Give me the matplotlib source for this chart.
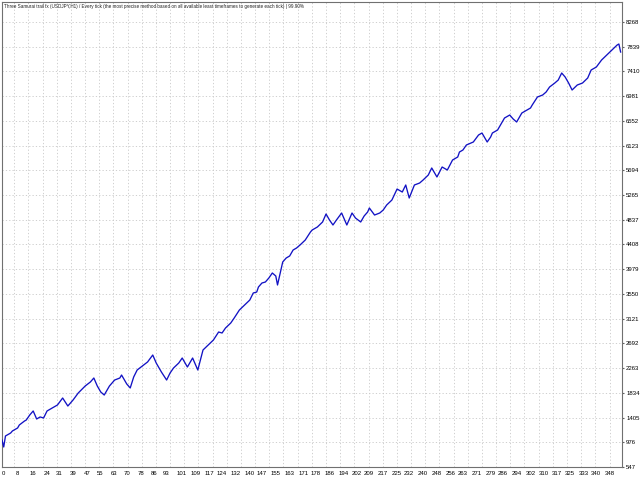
import matplotlib
matplotlib.use("Agg")
import matplotlib.pyplot as plt
import numpy as np

# --- tester report data ---
title = ("Three Samurai trail fx (USDJPY,H1) / Every tick (the most precise method "
         "based on all available least timeframes to generate each tick) | 99.90%")

trades = [0, 1, 2, 5, 6, 9, 10, 13, 14, 16, 18, 20, 22, 24, 26, 29, 32, 35, 38, 41,
          44, 48, 51, 53, 55, 57, 59, 62, 65, 68, 69, 72, 74, 76, 78, 81, 84, 87, 89, 92,
          95, 97, 99, 102, 104, 107, 110, 113, 116, 119, 122, 125, 127, 129, 132, 134, 137, 140, 143, 145,
          147, 148, 150, 152, 154, 156, 158, 159, 162, 164, 166, 168, 170, 172, 175, 178, 179, 182, 185, 187,
          189, 191, 193, 196, 199, 202, 204, 207, 209, 211, 212, 215, 218, 220, 222, 225, 228, 231, 233, 235,
          238, 241, 243, 246, 248, 251, 254, 257, 260, 263, 264, 266, 268, 272, 275, 277, 280, 282, 283, 286,
          287, 290, 293, 295, 297, 300, 303, 305, 306, 309, 312, 314, 316, 319, 321, 323, 325, 327, 329, 332,
          335, 338, 340, 343, 346, 349, 352, 355, 356, 357]

balance = [1015, 894, 1085, 1137, 1172, 1224, 1276, 1345, 1362, 1449, 1519, 1380, 1415, 1397, 1519, 1571, 1623, 1744, 1605, 1709,
           1831, 1952, 2022, 2091, 1952, 1848, 1796, 1952, 2056, 2091, 2143, 1987, 1918, 2109, 2230, 2299, 2369, 2490, 2351, 2195,
           2056, 2178, 2265, 2351, 2438, 2282, 2438, 2230, 2577, 2664, 2750, 2889, 2872, 2959, 3045, 3132, 3271, 3358, 3444, 3566,
           3583, 3670, 3739, 3757, 3826, 3913, 3861, 3705, 4104, 4173, 4208, 4312, 4347, 4399, 4485, 4624, 4659, 4711, 4798, 4937,
           4832, 4746, 4832, 4954, 4746, 4954, 4867, 4798, 4902, 4971, 5041, 4919, 4954, 5006, 5093, 5179, 5370, 5318, 5440, 5214,
           5440, 5474, 5526, 5613, 5735, 5579, 5752, 5700, 5873, 5926, 6012, 6047, 6134, 6186, 6307, 6342, 6186, 6273, 6342, 6394,
           6446, 6602, 6654, 6585, 6533, 6689, 6741, 6776, 6828, 6967, 7001, 7053, 7140, 7209, 7261, 7383, 7313, 7209, 7088, 7175,
           7209, 7296, 7435, 7487, 7608, 7695, 7782, 7869, 7886, 7747]

y_ticks = [547, 976, 1405, 1834, 2263, 2692, 3121, 3550, 3979, 4408, 4837, 5265,
           5694, 6123, 6552, 6981, 7410, 7839, 8268]
x_ticks = [0, 8, 16, 24, 31, 39, 47, 55, 63, 70, 78, 86, 93, 101, 109, 117, 124, 132,
           140, 147, 155, 163, 171, 178, 186, 194, 202, 209, 217, 225, 232, 240, 248, 256,
           263, 271, 279, 286, 294, 302, 310, 317, 325, 333, 340, 348]

font = ["Liberation Sans", "DejaVu Sans"]

fig = plt.figure(figsize=(6.4, 4.8), dpi=100)
ax = fig.add_axes([2 / 640, 13 / 480, 620 / 640, 465 / 480])

ax.plot(trades, balance, color="#1212c4", lw=0.95, zorder=3)

ax.set_xlim(0, 357.8)
ax.set_ylim(547, 8615)

# price scale on the right like the MT4 tester
ax.yaxis.tick_right()
ax.set_yticks(y_ticks)
ax.set_yticklabels([str(v) for v in y_ticks], fontsize=4.3, family=font)
ax.tick_params(axis="y", length=1.5, pad=1.5, color="#606060")

ax.set_xticks(x_ticks)
ax.set_xticklabels([str(v) for v in x_ticks], fontsize=4.3, family=font, ha="left")
ax.tick_params(axis="x", length=0, pad=3)

# vertical grid runs at its own spacing, not at the labels
ax.set_xticks(np.arange(1, 44) * 8.18 - 1.15, minor=True)
ax.tick_params(axis="x", which="minor", length=0)
ax.grid(axis="x", which="minor", color="#c8c8c8", ls=(0, (1.5, 2.5)), lw=0.6)
ax.grid(axis="y", which="major", color="#c8c8c8", ls=(0, (1.5, 2.5)), lw=0.6)
ax.set_axisbelow(True)

for s in ax.spines.values():
    s.set_color("#707070")
    s.set_linewidth(0.8)

ax.text(0.003, 0.995, title, transform=ax.transAxes, fontsize=3.3, family=font,
        va="top", ha="left", color="#202020")

fig.savefig("out.png", dpi=100)
